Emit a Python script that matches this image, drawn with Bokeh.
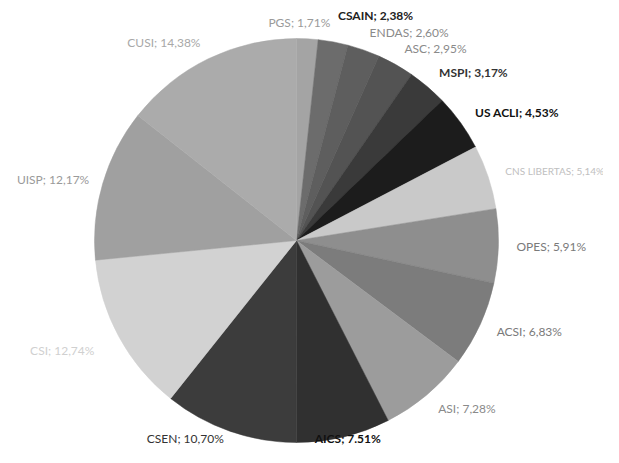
import math
from bokeh.plotting import figure
from bokeh.models import ColumnDataSource, Range1d
from bokeh.core.properties import value
from bokeh.embed import file_html
from bokeh.resources import INLINE

# ---- data ----
names = ["PGS", "CSAIN", "ENDAS", "ASC", "MSPI", "US ACLI", "CNS LIBERTAS",
         "OPES", "ACSI", "ASI", "AICS", "CSEN", "CSI", "UISP", "CUSI"]
shares = [1.71, 2.38, 2.60, 2.95, 3.17, 4.53, 5.14,
          5.91, 6.83, 7.28, 7.51, 10.70, 12.74, 12.17, 14.38]
labels = ["PGS; 1,71%", "CSAIN; 2,38%", "ENDAS; 2,60%", "ASC; 2,95%",
          "MSPI; 3,17%", "US ACLI; 4,53%", "CNS LIBERTAS; 5,14%", "OPES; 5,91%",
          "ACSI; 6,83%", "ASI; 7,28%", "AICS; 7.51%", "CSEN; 10,70%",
          "CSI; 12,74%", "UISP; 12,17%", "CUSI; 14,38%"]

# ---- styling ----
slice_colors = ["#a4a4a4", "#6c6c6c", "#5e5e5e", "#535353", "#3a3a3a", "#1c1c1c",
                "#c9c9c9", "#8e8e8e", "#7c7c7c", "#9c9c9c", "#303030", "#3c3c3c",
                "#d2d2d2", "#a0a0a0", "#ababab"]
label_colors = ["#9a9a9a", "#222222", "#8a8a8a", "#8a8a8a", "#333333", "#111111",
                "#c0c0c0", "#7a7a7a", "#7a7a7a", "#8a8a8a", "#111111", "#333333",
                "#d0d0d0", "#9a9a9a", "#a8a8a8"]
label_bold = [False, True, False, False, True, True, False, False,
              False, False, True, False, False, False, False]
label_sizes = ["12px"] * 6 + ["10px"] + ["12px"] * 8
extra_r = {"CSAIN": 9, "CSI": 10, "UISP": -4}

W, H = 603, 447
cx, cy, R = 296, 207, 202
RL = 220

total = sum(shares)
starts, ends, tx, ty, aligns = [], [], [], [], []
cum = 0.0
for n, s in zip(names, shares):
    a0 = cum / total
    cum += s
    a1 = cum / total
    starts.append(math.pi / 2 - 2 * math.pi * a0)
    ends.append(math.pi / 2 - 2 * math.pi * a1)
    mid = 2 * math.pi * (a0 + a1) / 2  # clockwise from top
    sx, sy = math.sin(mid), math.cos(mid)
    rl = RL + extra_r.get(n, 0)
    x = cx + rl * sx
    y = cy + rl * sy
    y = min(max(y, 9), H - 8)
    if abs(sx) < 0.3 and sy < 0:
        aligns.append("center")
    elif abs(sx) < 0.1:
        aligns.append("right")
        x += 22
        y -= 2
    elif sx > 0:
        aligns.append("left")
    else:
        aligns.append("right")
    tx.append(x)
    ty.append(y)

src = ColumnDataSource(dict(start=starts, end=ends, color=slice_colors,
                            x=[cx] * len(shares), y=[cy] * len(shares)))

p = figure(width=W, height=H, output_backend="svg", toolbar_location=None,
           x_range=Range1d(0, W), y_range=Range1d(0, H), min_border=0)
p.axis.visible = False
p.grid.visible = False
p.outline_line_color = None
p.background_fill_color = "white"
p.border_fill_color = "white"

p.wedge(x="x", y="y", radius=R, start_angle="start", end_angle="end",
        direction="clock", fill_color="color", line_color="color", line_width=0.5,
        source=src)

for style in (False, True):
    idx = [i for i in range(len(names)) if label_bold[i] == style]
    lsrc = ColumnDataSource(dict(x=[tx[i] for i in idx], y=[ty[i] for i in idx],
                                 t=[labels[i] for i in idx],
                                 c=[label_colors[i] for i in idx],
                                 a=[aligns[i] for i in idx],
                                 fs=[label_sizes[i] for i in idx]))
    p.text(x="x", y="y", text="t", text_color="c", text_align="a",
           text_baseline="middle", text_font=value("Lato"),
           text_font_size="fs",
           text_font_style="bold" if style else "normal", source=lsrc)

open("out.html", "w").write(file_html(p, INLINE))
